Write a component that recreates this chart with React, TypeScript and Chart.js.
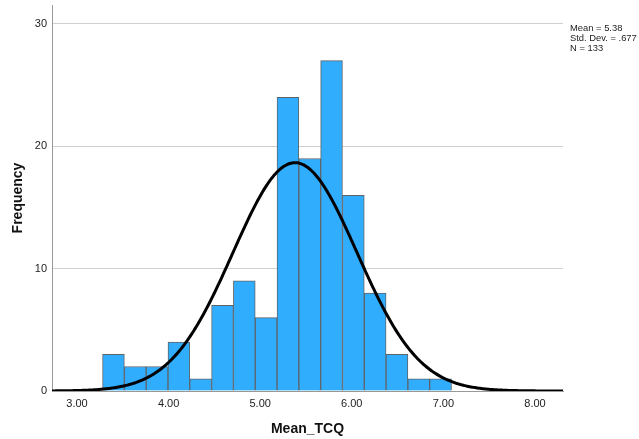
import React, { useEffect, useRef } from "react";
import { Chart, registerables } from "chart.js";

Chart.register(...registerables);

// Histogram of Mean_TCQ
const binStart = 3.279;
const binWidth = 0.2381;
const counts = [3, 2, 2, 4, 1, 7, 9, 6, 24, 19, 27, 16, 8, 3, 1, 1];

// Summary statistics shown on the chart
const MEAN = 5.38;
const SD = 0.677;
const N = 133;
const statsLines = ["Mean = 5.38", "Std. Dev. = .677", "N = 133"];

const xTicks = [3, 4, 5, 6, 7, 8];
const yTicks = [0, 10, 20, 30];
const xMin = 2.727;
const xMax = 8.306;
const yMax = 31.55;

const FONT = "'Liberation Sans', Arial, sans-serif";

export default function App() {
  const ref = useRef<HTMLCanvasElement | null>(null);

  useEffect(() => {
    if (!ref.current) return;
    const barData = counts.map((c, i) => ({ x: binStart + (i + 0.5) * binWidth, y: c }));
    const curve: { x: number; y: number }[] = [];
    const steps = 400;
    for (let i = 0; i <= steps; i++) {
      const x = xMin + ((xMax - xMin) * i) / steps;
      const z = (x - MEAN) / SD;
      const y = (N * binWidth) / (SD * Math.sqrt(2 * Math.PI)) * Math.exp(-0.5 * z * z);
      curve.push({ x, y });
    }

    const statsPlugin = {
      id: "stats",
      afterDraw(chart: any) {
        const ctx = chart.ctx;
        ctx.save();
        ctx.fillStyle = "#222";
        ctx.font = `9.4px ${FONT}`;
        ctx.textBaseline = "middle";
        ctx.textAlign = "left";
        statsLines.forEach((t, i) => ctx.fillText(t, 570, 28 + i * 10));
        ctx.restore();
      },
    };

    const chart = new Chart(ref.current, {
      type: "bar",
      data: {
        datasets: [
          {
            type: "line",
            data: curve,
            borderColor: "#000",
            borderWidth: 3,
            pointRadius: 0,
            fill: false,
            tension: 0,
            order: 0,
          } as any,
          {
            type: "bar",
            data: barData,
            backgroundColor: "#31adfe",
            borderColor: "#5f6468",
            borderWidth: 1,
            barPercentage: 1,
            categoryPercentage: 1,
            order: 1,
          } as any,
        ],
      },
      options: {
        responsive: false,
        animation: false,
        layout: { padding: { top: 5, right: 76, left: 0, bottom: 0 } },
        plugins: { legend: { display: false }, tooltip: { enabled: false } },
        scales: {
          x: {
            type: "linear",
            min: xMin,
            max: xMax,
            offset: false,
            afterBuildTicks: (s: any) => {
              s.ticks = xTicks.map((v) => ({ value: v }));
            },
            afterFit: (s: any) => {
              s.height = 48;
              s.paddingLeft = 0;
              s.paddingRight = 0;
            },
            grid: { display: false, offset: false, drawTicks: false },
            border: { display: true, color: "#999", width: 1 },
            ticks: {
              padding: 6,
              color: "#222",
              font: { family: FONT, size: 11 },
              callback: (v: any) => Number(v).toFixed(2),
              maxRotation: 0,
            },
            title: {
              display: true,
              text: "Mean_TCQ",
              color: "#111",
              font: { family: FONT, size: 14, weight: "bold" },
              padding: { top: 1, bottom: 1 },
            },
          },
          y: {
            type: "linear",
            min: 0,
            max: yMax,
            afterBuildTicks: (s: any) => {
              s.ticks = yTicks.map((v) => ({ value: v }));
            },
            afterFit: (s: any) => {
              s.width = 52;
              s.paddingTop = 0;
              s.paddingBottom = 0;
            },
            grid: { color: "#cfcfcf", lineWidth: 1, drawTicks: false },
            border: { display: true, color: "#999", width: 1 },
            ticks: {
              padding: 5,
              color: "#222",
              font: { family: FONT, size: 11 },
            },
            title: {
              display: true,
              text: "Frequency",
              color: "#111",
              font: { family: FONT, size: 14, weight: "bold" },
              padding: { top: 10, bottom: 10 },
            },
          },
        },
      },
      plugins: [statsPlugin],
    });
    return () => chart.destroy();
  }, []);

  return (
    <div style={{ position: "absolute", left: 0, top: 0, width: 639, height: 439, background: "#fff" }}>
      <canvas ref={ref} width={639} height={439} />
    </div>
  );
}
